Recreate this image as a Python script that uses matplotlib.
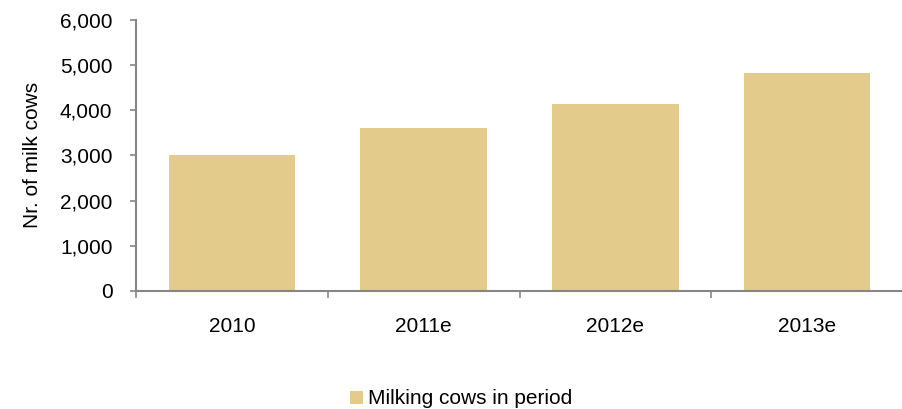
import matplotlib.pyplot as plt
from matplotlib.ticker import FuncFormatter, MultipleLocator
from matplotlib.patches import Patch

plt.rcParams['font.family'] = ['Liberation Sans', 'DejaVu Sans']

years = ['2010', '2011e', '2012e', '2013e']
cows = [3000, 3600, 4140, 4825]
series_name = 'Milking cows in period'

bar_color = '#E3CC8B'
axis_color = '#868686'

fig = plt.figure(figsize=(9.03, 4.09), dpi=100)
ax = fig.add_axes([136 / 903, 1 - 291 / 409, 1 - 136 / 903, (291 - 19.7) / 409])

x = list(range(len(years)))
ax.bar(x, cows, width=0.66, color=bar_color, edgecolor='none')

ax.set_xlim(-0.5, len(years) - 0.5)
ax.set_ylim(0, 6000)
ax.yaxis.set_major_locator(MultipleLocator(1000))
ax.yaxis.set_major_formatter(FuncFormatter(lambda v, p: f'{int(v):,}'))

# category labels between boundary ticks
ax.set_xticks([i - 0.5 for i in range(len(years) + 1)])
ax.set_xticklabels([])
ax.set_xticks(x, minor=True)
ax.set_xticklabels(years, minor=True)
ax.tick_params(axis='x', which='minor', length=0, pad=19, labelsize=15)
ax.tick_params(axis='x', which='major', length=5, color=axis_color, width=1.2)
ax.tick_params(axis='y', length=4, color=axis_color, width=1.2, labelsize=15, pad=13)

for s in ['top', 'right']:
    ax.spines[s].set_visible(False)
for s in ['left', 'bottom']:
    ax.spines[s].set_color(axis_color)
    ax.spines[s].set_linewidth(1.5)

ax.set_ylabel('Nr. of milk cows', fontsize=15, labelpad=13)

handles = [Patch(facecolor=bar_color, edgecolor='none', label=series_name)]
fig.legend(handles=handles, loc='center', bbox_to_anchor=(461 / 903, 1 - 399 / 409),
           frameon=False, fontsize=15, handlelength=0.6, handleheight=0.6,
           handletextpad=0.25, borderpad=0)

fig.savefig('out.png', dpi=100)
